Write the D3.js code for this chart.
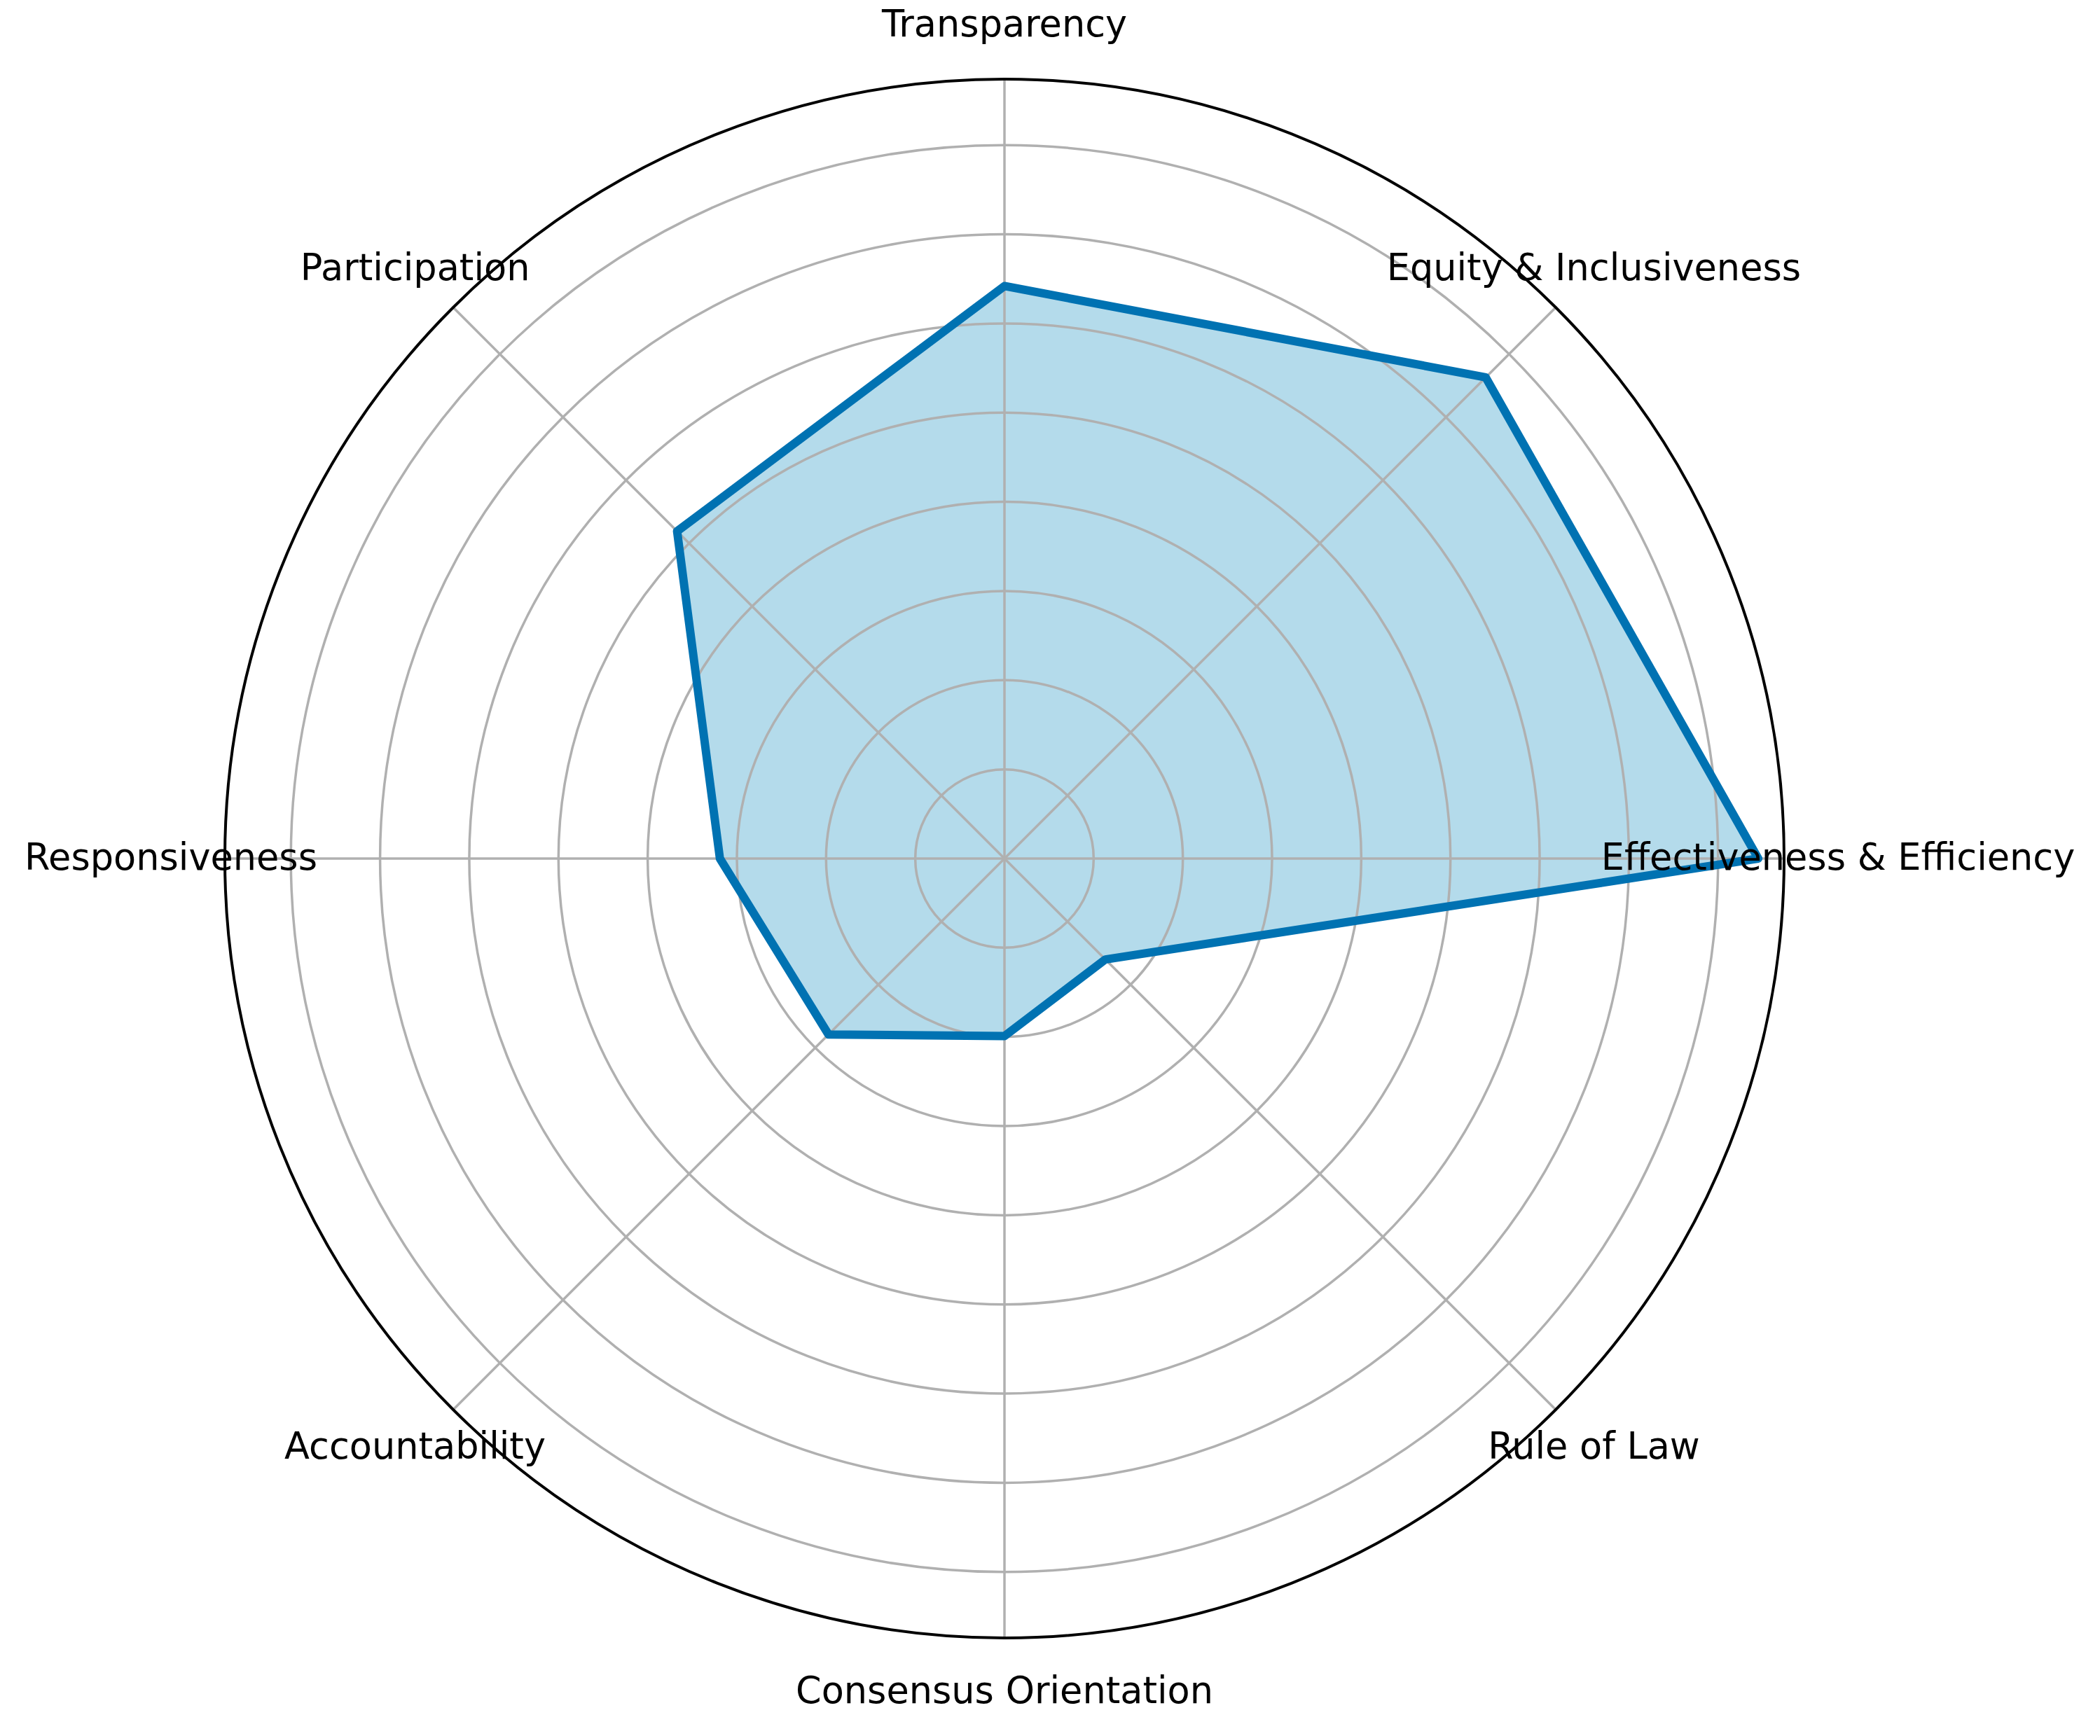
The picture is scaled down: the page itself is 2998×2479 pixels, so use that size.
<!DOCTYPE html>
<html>
<head>
<meta charset="utf-8">
<script src="https://cdn.jsdelivr.net/npm/d3@7"></script>
<style>
  html, body { margin: 0; padding: 0; background: #fff; }
  text { font-family: "DejaVu Sans", sans-serif; }
</style>
</head>
<body>
<svg id="radar"></svg>
<script>
// categories, counter-clockwise from 3 o'clock
const categories = [
    'Effectiveness & Efficiency',
    'Equity & Inclusiveness',
    'Transparency',
    'Participation',
    'Responsiveness',
    'Accountability',
    'Consensus Orientation',
    'Rule of Law'
];
const scores = [8.45, 7.63, 6.42, 5.19, 3.19, 2.79, 1.99, 1.60];
const gridLevels = [1, 2, 3, 4, 5, 6, 7, 8];
const rMax = 8.74;

const width = 2998;
const height = 2479;
const cx = 1434, cy = 1226;
const outerR = 1113;
const labelR = 1190;

const svg = d3.select('#radar')
    .attr('width', width)
    .attr('height', height);

svg.append('rect')
    .attr('width', width)
    .attr('height', height)
    .attr('fill', '#fff');

const g = svg.append('g')
    .attr('transform', 'translate(' + cx + ',' + cy + ')');

const rScale = d3.scaleLinear()
    .domain([0, rMax])
    .range([0, outerR]);

// theta in matplotlib sense (ccw from east) -> d3 radial angle (cw from north)
const theta = d3.scaleLinear()
    .domain([0, categories.length])
    .range([0, 2 * Math.PI]);
const toD3 = (i) => Math.PI / 2 - theta(i);

// filled area first, grid drawn over it
const radial = d3.lineRadial()
    .angle((d, i) => toD3(i))
    .radius(d => rScale(d))
    .curve(d3.curveLinearClosed);

g.append('path')
    .datum(scores)
    .attr('d', radial)
    .attr('fill', '#b4dbeb')
    .attr('stroke', 'none');

// circular grid
g.selectAll('.ring')
    .data(gridLevels)
  .enter().append('circle')
    .attr('class', 'ring')
    .attr('r', d => rScale(d))
    .attr('fill', 'none')
    .attr('stroke', '#b0b0b0')
    .attr('stroke-width', 3.5);

// spokes
g.selectAll('.spoke')
    .data(categories)
  .enter().append('line')
    .attr('class', 'spoke')
    .attr('x1', 0).attr('y1', 0)
    .attr('x2', (d, i) => rScale(rMax) * Math.cos(theta(i)))
    .attr('y2', (d, i) => -rScale(rMax) * Math.sin(theta(i)))
    .attr('stroke', '#b0b0b0')
    .attr('stroke-width', 3.5);

// data outline
g.append('path')
    .datum(scores)
    .attr('d', radial)
    .attr('fill', 'none')
    .attr('stroke', '#0072b2')
    .attr('stroke-width', 12)
    .attr('stroke-linejoin', 'round');

// outer frame
g.append('circle')
    .attr('r', rScale(rMax))
    .attr('fill', 'none')
    .attr('stroke', '#000')
    .attr('stroke-width', 4);

// category labels
g.selectAll('.label')
    .data(categories)
  .enter().append('text')
    .attr('class', 'label')
    .attr('x', (d, i) => labelR * Math.cos(theta(i)))
    .attr('y', (d, i) => -labelR * Math.sin(theta(i)) - 3)
    .attr('text-anchor', 'middle')
    .attr('dominant-baseline', 'central')
    .attr('font-size', 52.5)
    .attr('fill', '#000')
    .text(d => d);
</script>
</body>
</html>
